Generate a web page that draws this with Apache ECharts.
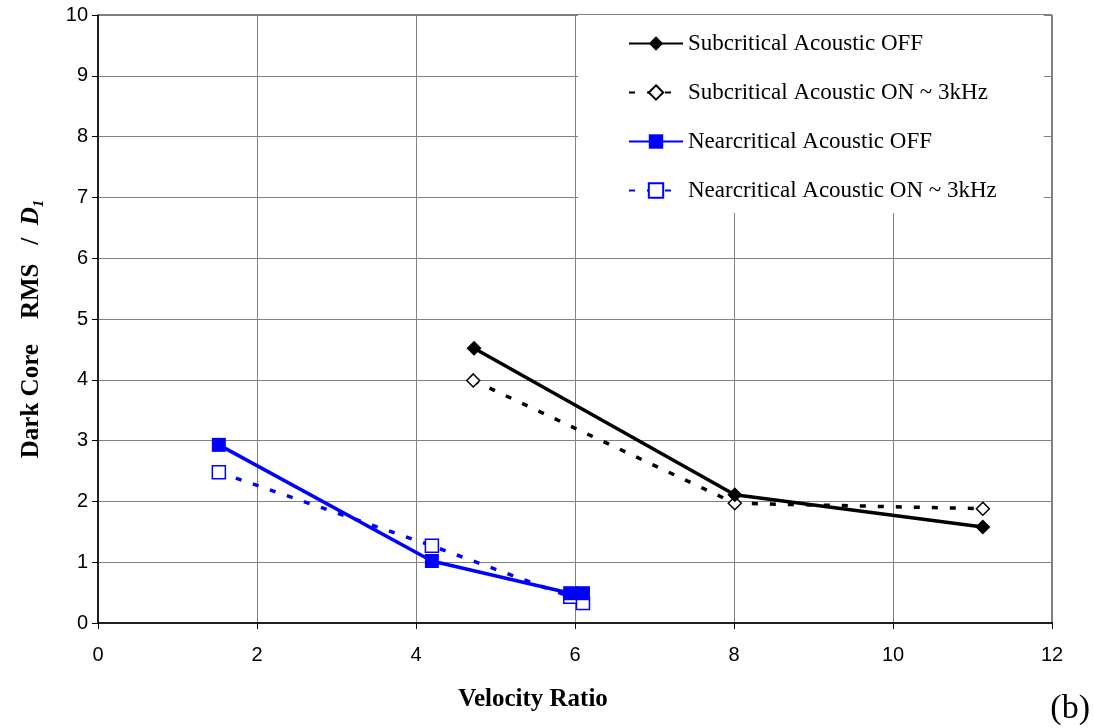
<!DOCTYPE html>
<html>
<head>
<meta charset="utf-8">
<script src="https://cdn.jsdelivr.net/npm/echarts@6/dist/echarts.min.js"></script>
<style>
  html, body { margin: 0; padding: 0; background: #fff; }
  #chart { width: 1094px; height: 728px; }
</style>
</head>
<body>
<div id="chart"></div>
<script>
// data: [velocity ratio, dark core RMS / D1]
const subOff = [[4.73, 4.52], [8.01, 2.11], [11.13, 1.58]]
const subOn = [[4.72, 3.99], [8.01, 1.97], [11.13, 1.88]]
const nearOff = [[1.52, 2.93], [4.2, 1.02], [5.94, 0.49], [6.1, 0.49]]
const nearOn = [[1.52, 2.48], [4.2, 1.27], [5.94, 0.43], [6.1, 0.33]]
const seriesNames = [
  'Subcritical Acoustic OFF',
  'Subcritical Acoustic ON ~ 3kHz',
  'Nearcritical Acoustic OFF',
  'Nearcritical Acoustic ON ~ 3kHz'
]

const myChart = echarts.init(document.getElementById('chart'))
const serif = '"Liberation Serif", "Times New Roman", serif'
const sans = '"Liberation Sans", Arial, sans-serif'

const option = {
  animation: false,
  backgroundColor: '#fff',
  grid: { left: 98, right: 42, top: 15, bottom: 105, show: true, borderColor: '#000', borderWidth: 1 },
  xAxis: {
    type: 'value',
    min: 0,
    max: 12,
    interval: 2,
    name: 'Velocity Ratio',
    nameLocation: 'middle',
    nameGap: 64,
    nameTextStyle: { fontFamily: serif, fontWeight: 'bold', fontSize: 25, color: '#000', padding: [0, 84, 0, 0] },
    axisLine: { lineStyle: { color: '#000', width: 1.5 } },
    axisTick: { show: true, length: 6, lineStyle: { color: '#000' } },
    axisLabel: { fontFamily: sans, fontSize: 20, color: '#000', margin: 22 },
    splitLine: { show: true, lineStyle: { color: '#808080', width: 1 } }
  },
  yAxis: {
    type: 'value',
    min: 0,
    max: 10,
    interval: 1,
    name: '{a|Dark Core    RMS   /  }{d|D}{s|1}',
    nameLocation: 'middle',
    nameGap: 51,
    nameTextStyle: {
      padding: [0, 20, 0, 0],
      rich: {
        a: { fontFamily: serif, fontWeight: 'bold', fontSize: 25, color: '#000', lineHeight: 30 },
        d: { fontFamily: serif, fontWeight: 'bold', fontStyle: 'italic', fontSize: 25, color: '#000', lineHeight: 30 },
        s: { fontFamily: serif, fontWeight: 'bold', fontStyle: 'italic', fontSize: 15, color: '#000', lineHeight: 14, verticalAlign: 'bottom' }
      }
    },
    axisLine: { show: true, lineStyle: { color: '#000', width: 1.5 } },
    axisTick: { show: true, length: 6, lineStyle: { color: '#000' } },
    axisLabel: { fontFamily: sans, fontSize: 20, color: '#000', margin: 10 },
    splitLine: { show: true, lineStyle: { color: '#808080', width: 1 } }
  },
  legend: {
    orient: 'vertical',
    left: 578,
    top: 15,
    padding: [17, 47, 11, 50],
    itemGap: 26,
    itemWidth: 54,
    itemHeight: 18,
    backgroundColor: '#fff',
    textStyle: { fontFamily: serif, fontSize: 23, color: '#000' },
    data: seriesNames
  },
  series: [
    {
      name: seriesNames[0],
      type: 'line',
      data: subOff,
      symbol: 'diamond',
      symbolSize: 15,
      lineStyle: { color: '#000', width: 3.5 },
      itemStyle: { color: '#000' },
      z: 4
    },
    {
      name: seriesNames[1],
      type: 'line',
      data: subOn,
      symbol: 'diamond',
      symbolSize: 13,
      lineStyle: { color: '#000', width: 3.5, type: [6, 12] },
      itemStyle: { color: '#fff', borderColor: '#000', borderWidth: 1.5 },
      z: 3
    },
    {
      name: seriesNames[2],
      type: 'line',
      data: nearOff,
      symbol: 'rect',
      symbolSize: 14,
      lineStyle: { color: '#0000ff', width: 3.5 },
      itemStyle: { color: '#0000ff' },
      z: 4
    },
    {
      name: seriesNames[3],
      type: 'line',
      data: nearOn,
      symbol: 'rect',
      symbolSize: 13,
      lineStyle: { color: '#0000ff', width: 3.5, type: [6, 12] },
      itemStyle: { color: '#fff', borderColor: '#0000ff', borderWidth: 1.5 },
      z: 3
    }
  ],
  graphic: [
    {
      type: 'text',
      right: 4,
      top: 692,
      style: { text: '(b)', font: '34px ' + serif, fill: '#000' }
    }
  ]
}

myChart.setOption(option)

window.addEventListener('resize', function () {
  myChart.resize()
})
</script>
</body>
</html>
